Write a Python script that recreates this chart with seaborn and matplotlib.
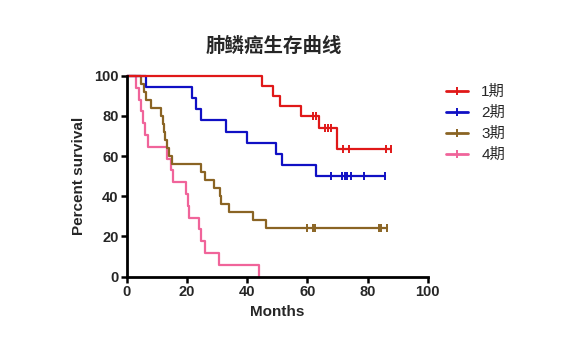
import numpy as np
import matplotlib
matplotlib.use('Agg')
import matplotlib.pyplot as plt
from matplotlib.lines import Line2D
import seaborn as sns

# stage labels and colours
groups = ['1期', '2期', '3期', '4期']
colors = ['#e01818', '#1010c4', '#8a6424', '#f0649a']

# death times (months) and survival (%) right after each drop
stage1_times = [44.8, 48.5, 50.8, 57.8, 63.8, 69.7]
stage1_surv = [95.0, 90.0, 85.0, 80.0, 74.0, 63.7]
stage1_censor = [61.8, 62.8, 65.8, 66.8, 67.8, 71.9, 73.7, 86.0, 87.7]

stage2_times = [6.5, 21.8, 22.9, 24.8, 32.9, 39.8, 49.5, 51.7, 62.8]
stage2_surv = [94.4, 88.9, 83.3, 77.8, 72.2, 66.7, 61.1, 55.6, 50.0]
stage2_censor = [67.7, 71.6, 72.4, 73.2, 74.6, 78.7, 85.7]

stage3_times = [4.7, 5.6, 6.4, 8.1, 11.5, 11.9, 12.2, 12.8, 13.3, 14.0, 15.0,
                24.8, 25.9, 29.0, 30.9, 31.2, 33.9, 42.0, 46.1]
stage3_surv = [96, 92, 88, 84, 80, 76, 72, 68, 64, 60, 56,
               52, 48, 44, 40, 36, 32, 28, 24]
stage3_censor = [59.9, 61.7, 62.5, 83.8, 84.6, 86.6]

stage4_times = [3.1, 3.9, 4.8, 5.5, 6.0, 7.0, 13.4, 14.6, 15.4, 19.8, 20.2,
                20.7, 24.0, 24.8, 25.9, 30.7, 44.0]
stage4_surv = [94.1, 88.2, 82.4, 76.5, 70.6, 64.7, 58.8, 52.9, 47.1, 41.2, 35.3,
               29.4, 23.5, 17.6, 11.8, 5.9, 0.0]
stage4_censor = []

x_ticks = [0, 20, 40, 60, 80, 100]
y_ticks = [0, 20, 40, 60, 80, 100]


def build_curve(times, surv, censor):
    """Step curve from (0, 100) through every drop, out to the last follow-up"""
    x = [0.0] + list(times)
    y = [100.0] + list(surv)
    end = max(list(censor) + list(times))
    if end > x[-1]:
        x.append(end)
        y.append(y[-1])
    # survival level at each censor time
    idx = np.searchsorted(np.array(x), censor, side='right') - 1
    cy = [y[i] for i in idx]
    return x, y, list(censor), cy


sns.set_style('ticks')
plt.rcParams['font.family'] = ['Liberation Sans', 'Noto Sans CJK SC']

fig = plt.figure(figsize=(5.82, 3.56), dpi=100)
ax = fig.add_axes([0.218, 0.223, 0.517, 0.564])

curves = [
    (stage1_times, stage1_surv, stage1_censor),
    (stage2_times, stage2_surv, stage2_censor),
    (stage3_times, stage3_surv, stage3_censor),
    (stage4_times, stage4_surv, stage4_censor),
]

# draw the later stages first so stage 1 sits on top
for (times, surv, censor), color in reversed(list(zip(curves, colors))):
    x, y, cx, cy = build_curve(times, surv, censor)
    sns.lineplot(x=x, y=y, drawstyle='steps-post', color=color, lw=1.6,
                 estimator=None, sort=False, ax=ax, clip_on=False)
    if cx:
        ax.plot(cx, cy, ls='none', marker='|', ms=6, mew=1.4, color=color,
                clip_on=False)

ax.set_xlim(0, 100)
ax.set_ylim(0, 100)
ax.set_xticks(x_ticks)
ax.set_yticks(y_ticks)
for lbl in ax.get_xticklabels() + ax.get_yticklabels():
    lbl.set_fontweight('bold')
    lbl.set_fontsize(10.5)
ax.tick_params(axis='both', length=4, width=1.8, color='black', pad=2)

sns.despine(ax=ax)
for side in ['left', 'bottom']:
    ax.spines[side].set_linewidth(2)
    ax.spines[side].set_color('black')

ax.set_xlabel('Months', fontsize=11, fontweight='bold', labelpad=4)
ax.set_ylabel('Percent survival', fontsize=11, fontweight='bold', labelpad=6)

fig.text(0.47, 0.87, '肺鳞癌生存曲线', ha='center', va='center', fontsize=14,
         fontweight='bold', family=['Noto Sans CJK SC'])

handles = [Line2D([0], [0], color=c, lw=2, marker='|', ms=6, mew=1.4)
           for c in colors]
fig.legend(handles, groups, loc='upper left', bbox_to_anchor=(0.743, 0.8),
           frameon=False, fontsize=11, handlelength=1.4, handletextpad=0.9,
           labelspacing=0.45)

fig.savefig('out.png', dpi=100)
plt.close(fig)
